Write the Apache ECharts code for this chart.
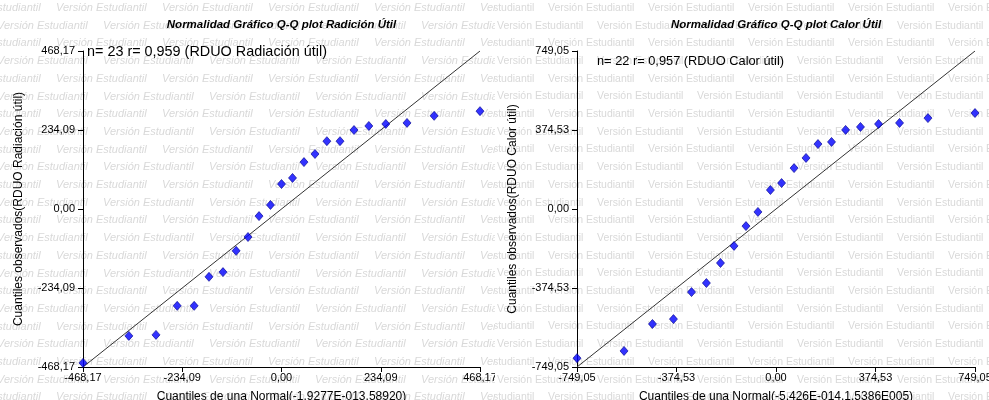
<!DOCTYPE html>
<html>
<head>
<meta charset="utf-8">
<script src="https://cdn.jsdelivr.net/npm/echarts@6/dist/echarts.min.js"></script>
<style>
  html, body { margin: 0; padding: 0; background: #fff; }
  #wrap { width: 989px; height: 400px; position: relative; overflow: hidden; }
  #chartLeft { position: absolute; left: 0; top: 0; width: 495px; height: 400px; }
  #chartRight { position: absolute; left: 495px; top: 0; width: 494px; height: 400px; }
</style>
</head>
<body>
<div id="wrap">
  <div id="chartLeft"></div>
  <div id="chartRight"></div>
</div>
<script>
// Radiación útil (n = 23)
const radX = [-468.17, -360, -296, -246, -206, -171, -138, -107, -79, -53, -26, 0,
  26, 53, 79, 107, 138, 171, 206, 246, 296, 360, 468.17];
const radY = [-456, -376, -373, -287, -287, -201, -187, -124, -83, -21, 12, 74,
  92, 139, 163, 201, 201, 234, 246, 252, 255, 276, 290];
const radRange = [-468.17, 468.17];
const radTicks = ['-468,17', '-234,09', '0,00', '234,09', '468,17'];

// Calor útil (n = 22)
const calX = [-749.05, -572, -465, -386, -318, -262, -209, -158, -113, -68, -21,
  21, 68, 113, 158, 209, 262, 318, 386, 465, 572, 749.05];
const calY = [-707, -673, -545, -522, -394, -351, -256, -175, -81, -14, 90,
  123, 194, 242, 308, 318, 375, 389, 403, 408, 431, 455];
const calRange = [-749.05, 749.05];
const calTicks = ['-749,05', '-374,53', '0,00', '374,53', '749,05'];

const FONT = '"Liberation Sans", Arial, sans-serif';

function watermark(italic, size, period, offA, offB, width) {
  const items = [];
  for (let r = 0; r < 24; r++) {
    const y = 8 + r * 17.7;
    const off = r % 2 ? offA : offB;
    for (let x = off - period; x < width; x += period) {
      items.push({
        type: 'text', x: x, y: y, z: -10, silent: true,
        style: {
          text: 'Versión Estudiantil', fill: '#d9d9d9',
          font: (italic ? 'italic ' : '') + size + 'px ' + FONT,
          verticalAlign: 'middle'
        }
      });
    }
  }
  return items;
}

function axisOpt(range, ticks, name, isX, nameGap) {
  const interval = (range[1] - range[0]) / (ticks.length - 1);
  return {
    type: 'value',
    min: range[0],
    max: range[1],
    interval: interval,
    name: name,
    nameLocation: 'middle',
    nameGap: nameGap,
    nameRotate: isX ? 0 : 90,
    nameTextStyle: { color: '#000', fontSize: 12, fontFamily: FONT },
    axisLine: { show: true, onZero: false, lineStyle: { color: '#000', width: 1 } },
    axisTick: { show: true, length: 5, lineStyle: { color: '#000' } },
    axisLabel: {
      color: '#000', fontSize: 11, fontFamily: FONT, margin: isX ? 5 : 8,
      showMinLabel: true, showMaxLabel: true, hideOverlap: false,
      formatter: v => ticks[Math.round((v - range[0]) / interval)]
    },
    splitLine: { show: false }
  };
}

function build(el, cfg) {
  const chart = echarts.init(document.getElementById(el), null, { renderer: 'canvas' });
  const pts = cfg.xs.map((x, i) => [x, cfg.ys[i]]);
  chart.setOption({
    animation: false,
    backgroundColor: '#fff',
    grid: {
      left: cfg.gridLeft, width: cfg.gridWidth, top: 51, height: 316,
      containLabel: false, outerBoundsMode: 'none'
    },
    xAxis: axisOpt(cfg.range, cfg.ticks, cfg.xName, true, 24),
    yAxis: axisOpt(cfg.range, cfg.ticks, cfg.yName, false, 58),
    graphic: watermark(cfg.italic, cfg.wmSize, cfg.wmPeriod, cfg.wmOffA, cfg.wmOffB, cfg.width).concat([
      {
        type: 'text', x: cfg.gridLeft + cfg.gridWidth / 2, y: 25, z: 10,
        style: {
          text: cfg.title, fill: '#000', align: 'center', verticalAlign: 'middle',
          font: 'italic bold 11.5px ' + FONT
        }
      },
      {
        type: 'text', x: cfg.noteX, y: cfg.noteY, z: 10,
        style: {
          text: cfg.note, fill: '#000', verticalAlign: 'middle',
          font: cfg.noteSize + 'px ' + FONT
        }
      }
    ]),
    series: [
      {
        type: 'line',
        data: [[cfg.range[0], cfg.range[0]], [cfg.range[1], cfg.range[1]]],
        symbol: 'none',
        lineStyle: { color: '#333', width: 1 },
        silent: true,
        z: 1
      },
      {
        type: 'scatter',
        data: pts,
        symbol: 'diamond',
        symbolSize: [8, 9],
        itemStyle: { color: '#0000ff', borderColor: '#00008b', borderWidth: 0.8 },
        z: 3
      }
    ]
  });
}

build('chartLeft', {
  xs: radX, ys: radY, range: radRange, ticks: radTicks,
  gridLeft: 83, gridWidth: 397, width: 495,
  title: 'Normalidad Gráfico Q-Q plot Radición Útil',
  note: 'n= 23 r= 0,959 (RDUO Radiación útil)', noteX: 87, noteY: 52, noteSize: 14.4,
  xName: 'Cuantiles de una Normal(-1,9277E-013,58920)',
  yName: 'Cuantiles observados(RDUO Radiación útil)',
  italic: true, wmSize: 11, wmPeriod: 106, wmOffA: -3, wmOffB: 56
});

build('chartRight', {
  xs: calX, ys: calY, range: calRange, ticks: calTicks,
  gridLeft: 82, gridWidth: 398, width: 494,
  title: 'Normalidad Gráfico Q-Q plot Calor Útil',
  note: 'n= 22 r= 0,957 (RDUO Calor útil)', noteX: 102, noteY: 61, noteSize: 12.8,
  xName: 'Cuantiles de una Normal(-5,426E-014,1,5386E005)',
  yName: 'Cuantiles observados(RDUO Calor útil)',
  italic: false, wmSize: 10.5, wmPeriod: 100, wmOffA: 2, wmOffB: 53
});
</script>
</body>
</html>
